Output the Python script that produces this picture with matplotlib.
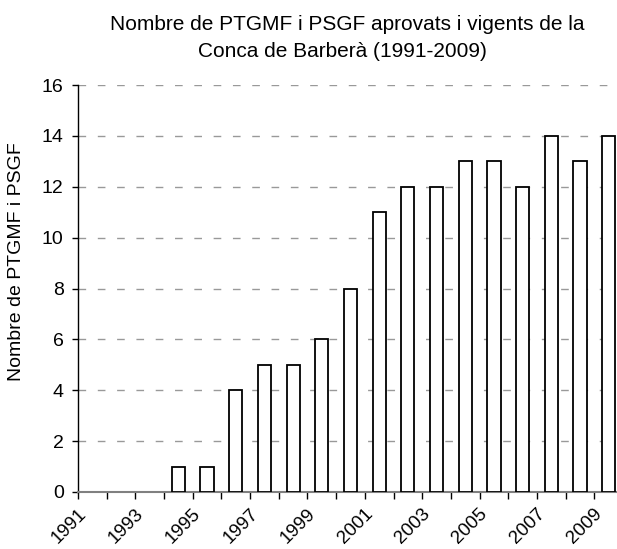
import numpy as np
import matplotlib
matplotlib.use("Agg")
import matplotlib.pyplot as plt
from matplotlib.transforms import ScaledTranslation

plt.rcParams['font.family'] = ['Liberation Sans', 'DejaVu Sans']

years = [1991, 1992, 1993, 1994, 1995, 1996, 1997, 1998, 1999, 2000,
         2001, 2002, 2003, 2004, 2005, 2006, 2007, 2008, 2009]
plans = [0, 0, 0, 1, 1, 4, 5, 5, 6, 8, 11, 12, 12, 13, 13, 12, 14, 13, 14]
y_ticks = [0, 2, 4, 6, 8, 10, 12, 14, 16]

fig = plt.figure(figsize=(6.17, 5.49), dpi=100)
# the plot area runs slightly past the right edge of the figure
ax = fig.add_axes([78 / 617, 1 - 492 / 549, 545 / 617, 407 / 549])

x = np.arange(len(years))
edges = ['black' if v > 0 else 'none' for v in plans]
ax.bar(x, plans, width=0.46, color='white', edgecolor=edges, linewidth=1.3, zorder=3)

ax.set_xlim(-0.5, len(years) - 0.5)
ax.set_ylim(0, 16)
ax.set_yticks(y_ticks)
ax.yaxis.grid(True, color='#999999', linestyle=(0, (5.5, 8.4)), linewidth=1)
ax.set_axisbelow(True)

# ticks on the category boundaries, labels every second year
ax.set_xticks(np.arange(-0.5, len(years), 1.0))
ax.set_xticklabels([])
ax.set_xticks(x[::2], minor=True)
ax.set_xticklabels([str(y) for y in years[::2]], minor=True,
                   rotation=45, ha='right', va='center', rotation_mode='anchor')
ax.tick_params(axis='x', which='minor', length=0, pad=14, labelsize=13.5)
ax.tick_params(axis='x', which='major', length=5, width=1)
ax.tick_params(axis='y', length=4.3, width=1, pad=6, labelsize=14)

# nudge the slanted year labels left so they end just before the bar centre
shift = ScaledTranslation(-6.5 / 72, 0, fig.dpi_scale_trans)
for lbl in ax.get_xticklabels(minor=True):
    lbl.set_transform(lbl.get_transform() + shift)

for side in ['top', 'right']:
    ax.spines[side].set_visible(False)
ax.spines['left'].set_linewidth(1)
ax.spines['bottom'].set_linewidth(1.5)
ax.spines['bottom'].set_color('#808080')

ax.set_ylabel('Nombre de PTGMF i PSGF', fontsize=14)
ax.yaxis.set_label_coords(-53 / 545, 0.565)

fig.text(347.5 / 617, 1 - 30 / 549, 'Nombre de PTGMF i PSGF aprovats i vigents de la',
         ha='center', va='baseline', fontsize=15)
fig.text(342.5 / 617, 1 - 57 / 549, 'Conca de Barberà (1991-2009)',
         ha='center', va='baseline', fontsize=15)

fig.savefig('out.png', dpi=100)
